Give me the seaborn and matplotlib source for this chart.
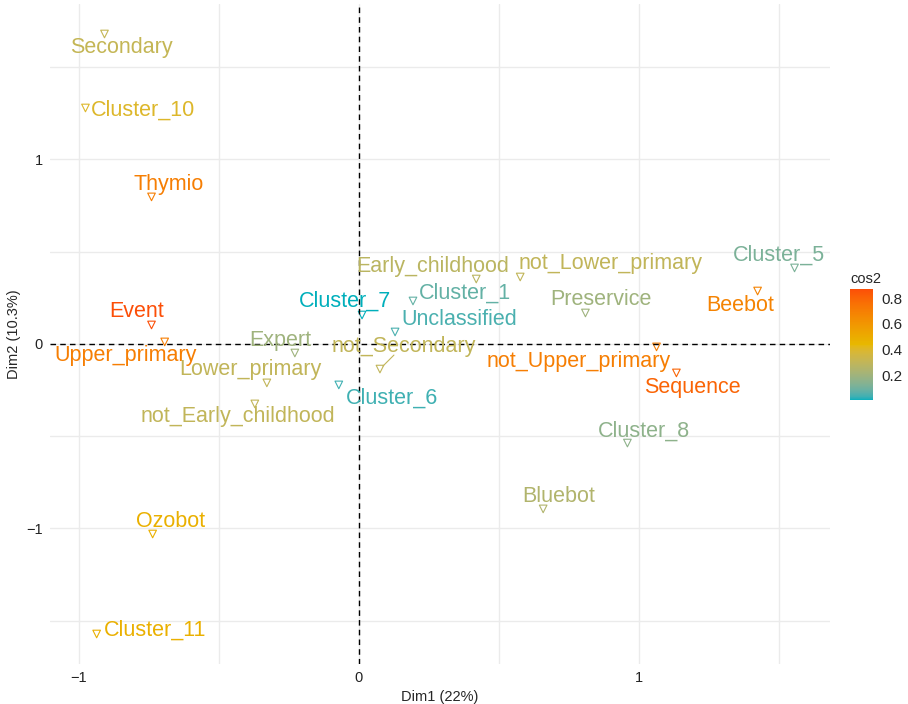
import numpy as np
import pandas as pd
import matplotlib
matplotlib.use("Agg")
import matplotlib.pyplot as plt
import seaborn as sns
from matplotlib.colors import ListedColormap, Normalize, to_rgb
from matplotlib.cm import ScalarMappable

# MCA variable categories: coordinates on Dim1/Dim2 and quality (cos2)
categories = ["Secondary", "Cluster_10", "Thymio", "Event", "Upper_primary",
              "Expert", "Lower_primary", "not_Early_childhood", "Cluster_6",
              "Cluster_7", "not_Secondary", "Unclassified", "Cluster_1",
              "Early_childhood", "not_Lower_primary", "Preservice", "Beebot",
              "Cluster_5", "not_Upper_primary", "Sequence", "Cluster_8",
              "Bluebot", "Ozobot", "Cluster_11"]
dim1 = [-0.909, -0.977, -0.741, -0.741, -0.694, -0.229, -0.329, -0.372, -0.072,
        0.011, 0.075, 0.129, 0.193, 0.419, 0.576, 0.809, 1.424, 1.556, 1.063,
        1.134, 0.959, 0.658, -0.737, -0.937]
dim2 = [1.680, 1.279, 0.797, 0.103, 0.011, -0.049, -0.211, -0.325, -0.222,
        0.157, -0.136, 0.065, 0.233, 0.352, 0.363, 0.168, 0.287, 0.412, -0.016,
        -0.157, -0.537, -0.894, -1.030, -1.572]
cos2 = [0.31, 0.40, 0.70, 0.87, 0.70, 0.20, 0.30, 0.30, 0.04, 0.01, 0.30, 0.05,
        0.08, 0.28, 0.30, 0.20, 0.68, 0.12, 0.70, 0.80, 0.16, 0.25, 0.48, 0.48]
cbar_ticks = [0.2, 0.4, 0.6, 0.8]
gradient_cols = ["#00AFBB", "#E7B800", "#FC4E07"]

# label placement (repel result), screen pixels relative to the point
label_offsets = {
    "Secondary": (17, 13), "Cluster_10": (58, 2), "Thymio": (17, -12),
    "Event": (-15, -13), "Upper_primary": (-39, 14), "Expert": (-15, -13),
    "Lower_primary": (-16, -13), "not_Early_childhood": (-17, 13),
    "Cluster_6": (53, 13), "Cluster_7": (-17, -14), "not_Secondary": (24, -23),
    "Unclassified": (64, -12), "Cluster_1": (52, -8),
    "Early_childhood": (-44, -13), "not_Lower_primary": (90, -13),
    "Preservice": (16, -13), "Beebot": (-17, 14), "Cluster_5": (-16, -13),
    "not_Upper_primary": (-78, 15), "Sequence": (16, 15),
    "Cluster_8": (17, -12), "Bluebot": (16, -12), "Ozobot": (18, -13),
    "Cluster_11": (58, -4),
}
# repel segment end (pixels from the point) for labels pushed far away
segment_ends = {"not_Secondary": (14, -14)}


# ggplot interpolates gradients in Lab space, do the same here
def srgb_to_lab(rgb):
    rgb = np.asarray(rgb, dtype=float)
    lin = np.where(rgb <= 0.04045, rgb / 12.92, ((rgb + 0.055) / 1.055) ** 2.4)
    m = np.array([[0.4124, 0.3576, 0.1805],
                  [0.2126, 0.7152, 0.0722],
                  [0.0193, 0.1192, 0.9505]])
    xyz = lin @ m.T / np.array([0.95047, 1.0, 1.08883])
    f = np.where(xyz > 0.008856, np.cbrt(xyz), 7.787 * xyz + 16 / 116)
    return np.stack([116 * f[..., 1] - 16, 500 * (f[..., 0] - f[..., 1]),
                     200 * (f[..., 1] - f[..., 2])], axis=-1)


def lab_to_srgb(lab):
    fy = (lab[..., 0] + 16) / 116
    fx = fy + lab[..., 1] / 500
    fz = fy - lab[..., 2] / 200
    f = np.stack([fx, fy, fz], axis=-1)
    xyz = np.where(f ** 3 > 0.008856, f ** 3, (f - 16 / 116) / 7.787)
    xyz = xyz * np.array([0.95047, 1.0, 1.08883])
    minv = np.array([[3.2406, -1.5372, -0.4986],
                     [-0.9689, 1.8758, 0.0415],
                     [0.0557, -0.2040, 1.0570]])
    lin = xyz @ minv.T
    rgb = np.where(lin <= 0.0031308, 12.92 * lin, 1.055 * np.abs(lin) ** (1 / 2.4) - 0.055)
    return np.clip(rgb, 0, 1)


labs = srgb_to_lab([to_rgb(c) for c in gradient_cols])
t = np.linspace(0, 1, 256)
stops = np.linspace(0, 1, len(gradient_cols))
lab_grid = np.stack([np.interp(t, stops, labs[:, k]) for k in range(3)], axis=-1)
cmap = ListedColormap(lab_to_srgb(lab_grid))
norm = Normalize(vmin=min(cos2), vmax=max(cos2))

df = pd.DataFrame({"name": categories, "Dim1": dim1, "Dim2": dim2, "cos2": cos2})

sns.set_style("white")
plt.rcParams["font.family"] = ["Liberation Sans", "DejaVu Sans"]

fig = plt.figure(figsize=(9.08, 7.04), dpi=100)
ax = fig.add_axes([50 / 908, 1 - 664 / 704, 780 / 908, 660 / 704])

sns.scatterplot(data=df, x="Dim1", y="Dim2", hue="cos2", palette=cmap,
                hue_norm=norm, marker="v", s=30, linewidth=0.8, legend=False, ax=ax)
pts = ax.collections[0]
pts.set_edgecolors(pts.get_facecolors())
pts.set_facecolors("none")

for name, x, y, c in zip(categories, dim1, dim2, cos2):
    dx, dy = label_offsets[name]
    col = cmap(norm(c))
    ax.annotate(name, (x, y), xytext=(dx, -dy), textcoords="offset pixels",
                ha="center", va="center", fontsize=15.5, color=col)
    if name in segment_ends:
        sx, sy = segment_ends[name]
        ax.annotate("", (x, y), xytext=(sx, -sy), textcoords="offset pixels",
                    arrowprops=dict(arrowstyle="-", color=col, lw=0.8,
                                    shrinkA=0, shrinkB=3))

ax.axhline(0, color="black", ls=(0, (4, 3)), lw=1, zorder=1)
ax.axvline(0, color="black", ls=(0, (4, 3)), lw=1, zorder=1)

ax.margins(0.05)
ax.set_xticks([-1, 0, 1])
ax.set_xticklabels(["\u22121", "0", "1"])
ax.set_yticks([-1, 0, 1])
ax.set_yticklabels(["\u22121", "0", "1"])
ax.set_xticks([-0.5, 0.5, 1.5], minor=True)
ax.set_yticks([-1.5, -0.5, 0.5, 1.5], minor=True)
ax.grid(True, which="both", color="#EBEBEB", lw=1)
ax.set_axisbelow(True)
for s in ax.spines.values():
    s.set_visible(False)
ax.tick_params(which="major", length=3, width=0.8, color="#333333",
               labelsize=10.5, labelcolor="#222222", pad=2)
ax.tick_params(which="minor", length=0)
ax.set_xlabel("Dim1 (22%)", fontsize=10.5, labelpad=4)
ax.set_ylabel("Dim2 (10.3%)", fontsize=10.5, labelpad=4)

# colour bar for cos2
cax = fig.add_axes([850 / 908, 1 - 400 / 704, 23 / 908, 111 / 704])
cb = fig.colorbar(ScalarMappable(norm=norm, cmap=cmap), cax=cax, ticks=cbar_ticks)
cb.outline.set_visible(False)
cax.yaxis.set_ticks_position("both")
cax.tick_params(direction="in", color="white", length=4, width=0.8,
                labelsize=11, labelleft=False, labelright=True, pad=6)
cax.set_title("cos2", fontsize=10.5, loc="left", pad=4)

fig.savefig("out.png", dpi=100)
